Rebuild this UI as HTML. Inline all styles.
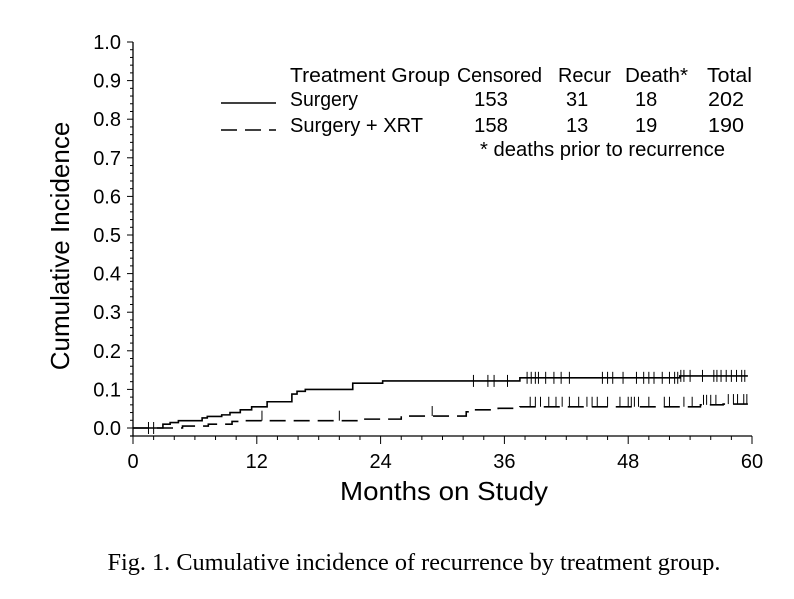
<!DOCTYPE html>
<html><head><meta charset="utf-8"><style>
body{margin:0;background:#fff;width:794px;height:594px;overflow:hidden}
svg text{font-family:"Liberation Sans",Arial,sans-serif;fill:#000}
</style></head><body>
<svg width="794" height="594">
<g id="axes"></g>
<g id="series"></g>
<g font-size="20">
<text x="290" y="82" textLength="160" lengthAdjust="spacingAndGlyphs">Treatment Group</text>
<text x="457" y="82" textLength="85" lengthAdjust="spacingAndGlyphs">Censored</text>
<text x="558" y="82" textLength="53" lengthAdjust="spacingAndGlyphs">Recur</text>
<text x="625" y="82" textLength="63" lengthAdjust="spacingAndGlyphs">Death*</text>
<text x="707" y="82" textLength="45" lengthAdjust="spacingAndGlyphs">Total</text>
<line x1="221" y1="103" x2="276" y2="103" stroke="#000" stroke-width="1.6"/>
<text x="290" y="106" textLength="68" lengthAdjust="spacingAndGlyphs">Surgery</text>
<text x="474" y="106" textLength="34" lengthAdjust="spacingAndGlyphs">153</text>
<text x="566" y="106">31</text>
<text x="635" y="106">18</text>
<text x="708" y="106" textLength="36" lengthAdjust="spacingAndGlyphs">202</text>
<line x1="221" y1="130" x2="276" y2="130" stroke="#000" stroke-width="1.6" stroke-dasharray="16,8"/>
<text x="290" y="132" textLength="133" lengthAdjust="spacingAndGlyphs">Surgery + XRT</text>
<text x="474" y="132" textLength="34" lengthAdjust="spacingAndGlyphs">158</text>
<text x="566" y="132">13</text>
<text x="635" y="132">19</text>
<text x="708" y="132" textLength="36" lengthAdjust="spacingAndGlyphs">190</text>
<text x="480" y="156" textLength="245" lengthAdjust="spacingAndGlyphs">* deaths prior to recurrence</text>
</g>
<text x="0" y="0" transform="translate(69,246) rotate(-90)" text-anchor="middle" font-size="26">Cumulative Incidence</text>
<text x="444" y="500" text-anchor="middle" font-size="26" textLength="208" lengthAdjust="spacingAndGlyphs">Months on Study</text>
<text x="414" y="570" text-anchor="middle" style="font-family:'Liberation Serif',serif" font-size="24" textLength="613" lengthAdjust="spacingAndGlyphs">Fig. 1. Cumulative incidence of recurrence by treatment group.</text>
</svg>
<script>
const xTicks=[0,12,24,36,48,60];
const yTicks=[0.0,0.1,0.2,0.3,0.4,0.5,0.6,0.7,0.8,0.9,1.0];
const surgMonths=[0,2.9,3.6,4.4,6.7,7.2,8.6,9.4,10.4,11.5,13,15.4,15.9,16.7,21.3,24.2,37.5,53];
const surgVals=[0,0.01,0.014,0.019,0.026,0.03,0.034,0.04,0.047,0.055,0.068,0.088,0.095,0.1,0.116,0.122,0.13,0.135];
const xrtMonths=[0,4.8,7.3,9.6,10.6,22.3,26,32.3,33,35.4,37.5,55,57.2];
const xrtVals=[0,0.005,0.01,0.017,0.019,0.023,0.031,0.042,0.047,0.051,0.055,0.06,0.062];
const surgCensor=[1.5,2,33,34.4,35,36.3,38.2,38.6,39,39.3,40,40.8,41.5,42.3,45.5,46,46.5,47.5,48.8,49.5,50,50.5,51.3,52,52.5,52.8,53.1,53.4,54,55.2,56.3,56.6,57,57.5,58,58.5,59,59.3];
const xrtCensor=[12.5,20,29,38.5,39,39.5,40.3,41,41.6,42.3,43.2,44,44.5,45,46,47.2,48,48.3,48.6,49,50,51.5,52,53.4,54.2,55.3,55.6,56,56.5,57.7,58.2,58.6,59.2,59.5];
const X=m=>133+m*(752-133)/60, Y=v=>428-v*386;
const NS='http://www.w3.org/2000/svg';
function mk(t,a,p){const e=document.createElementNS(NS,t);for(const k in a)e.setAttribute(k,a[k]);p.appendChild(e);return e;}
const ax=document.getElementById('axes'), se=document.getElementById('series');
let l=mk('line',{x1:X(0),y1:Y(1),x2:X(0),y2:436,stroke:'#000','stroke-width':1.3},ax);


l=mk('line',{x1:X(0)-3,y1:436,x2:X(60),y2:436,stroke:'#000','stroke-width':1.3},ax);


for(let i=0;i<=50;i++){const v=i*0.02,maj=i%5==0;mk('line',{x1:X(0)-(maj?6:3),y1:Y(v),x2:X(0),y2:Y(v),stroke:'#000','stroke-width':1},ax);}
for(let m=0;m<=60;m+=2){const maj=m%12==0;mk('line',{x1:X(m),y1:436,x2:X(m),y2:436+(maj?8:4),stroke:'#000','stroke-width':1},ax);}
yTicks.forEach(v=>{const t=mk('text',{x:121,y:Y(v)+7,'text-anchor':'end','font-size':20},ax);t.textContent=v.toFixed(1);

});
xTicks.forEach(m=>{const t=mk('text',{x:X(m),y:468,'text-anchor':'middle','font-size':20},ax);t.textContent=m;

});
function stepPath(ms,vs,end){let d=`M${X(ms[0])},${Y(vs[0])}`;for(let i=1;i<ms.length;i++)d+=`H${X(ms[i])}V${Y(vs[i])}`;return d+`H${X(end)}`;}
function valAt(ms,vs,m){let v=vs[0];for(let i=0;i<ms.length;i++)if(ms[i]<=m)v=vs[i];return v;}
let p=mk('path',{d:stepPath(surgMonths,surgVals,59.6),fill:'none',stroke:'#000','stroke-width':1.6},se);


p=mk('path',{d:stepPath(xrtMonths,xrtVals,59.6),fill:'none',stroke:'#000','stroke-width':1.6,'stroke-dasharray':'16,8'},se);


surgCensor.forEach(m=>{const y=Y(valAt(surgMonths,surgVals,m));const c=mk('line',{x1:X(m),y1:y-6,x2:X(m),y2:y+6,stroke:'#000','stroke-width':1},se);

});
xrtCensor.forEach(m=>{const y=Y(valAt(xrtMonths,xrtVals,m));const c=mk('line',{x1:X(m),y1:y-10,x2:X(m),y2:y,stroke:'#000','stroke-width':1},se);

});
</script>
</body></html>
